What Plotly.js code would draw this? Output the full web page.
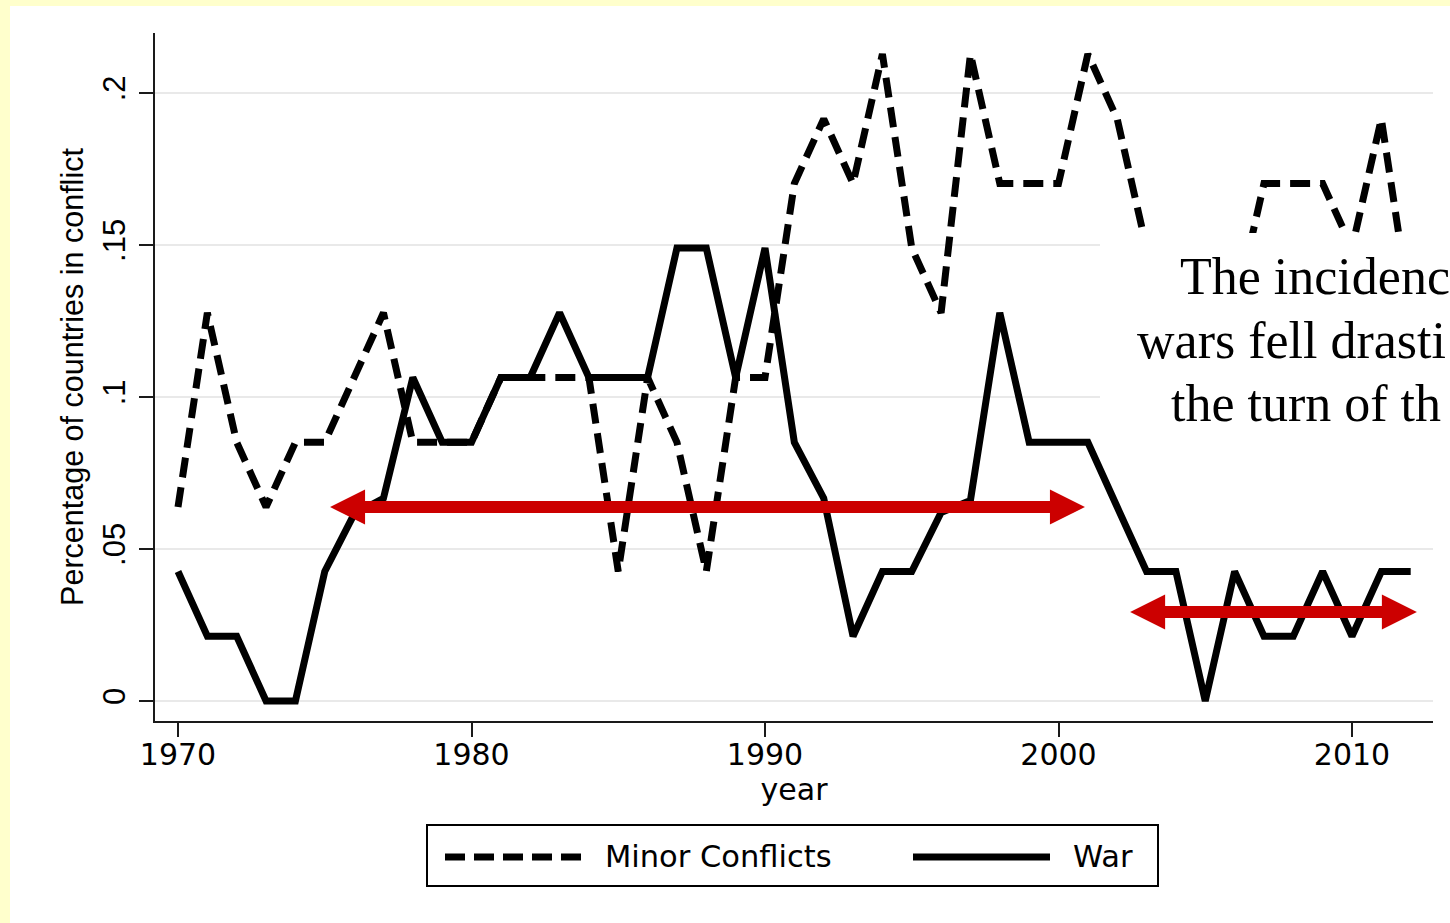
<!DOCTYPE html>
<html>
<head>
<meta charset="utf-8">
<script src="https://cdn.plot.ly/plotly-3.0.1.min.js"></script>
<style>
  html, body { margin: 0; padding: 0; background: #FFFFCC; }
  #chart { width: 1450px; height: 923px; }
</style>
</head>
<body>
<div id="chart"></div>
<script>
// ---- data ----
const years = [1970,1971,1972,1973,1974,1975,1976,1977,1978,1979,
               1980,1981,1982,1983,1984,1985,1986,1987,1988,1989,
               1990,1991,1992,1993,1994,1995,1996,1997,1998,1999,
               2000,2001,2002,2003,2004,2005,2006,2007,2008,2009,
               2010,2011,2012];
const minorConflicts = [0.0638,0.1277,0.0851,0.0638,0.0851,0.0851,0.1064,0.1277,0.0851,0.0851,
                        0.0851,0.1064,0.1064,0.1064,0.1064,0.0426,0.1064,0.0851,0.0426,0.1064,
                        0.1064,0.1702,0.1915,0.1702,0.2128,0.1490,0.1277,0.2128,0.1702,0.1702,
                        0.1702,0.2128,0.1915,0.1490,0.1277,0.1277,0.1277,0.1702,0.1702,0.1702,
                        0.1490,0.1915,0.1277];
const war = [0.0426,0.0213,0.0213,0.0000,0.0000,0.0426,0.0615,0.0667,0.1064,0.0851,
             0.0851,0.1064,0.1064,0.1277,0.1064,0.1064,0.1064,0.1490,0.1490,0.1064,
             0.1490,0.0851,0.0667,0.0213,0.0426,0.0426,0.0620,0.0660,0.1277,0.0851,
             0.0851,0.0851,0.0638,0.0426,0.0426,0.0000,0.0426,0.0213,0.0213,0.0426,
             0.0213,0.0426,0.0426];
const xTickVals = [1970,1980,1990,2000,2010];
const xTickText = ['1970','1980','1990','2000','2010'];
const yTickVals = [0,0.05,0.1,0.15,0.2];
const yTickText = ['0','.05','.1','.15','.2'];
const seriesNames = ['Minor Conflicts','War'];
// double-headed arrows: [start year, end year, level]
const arrowStarts = [1975.18, 2002.44];
const arrowEnds   = [2000.90, 2012.21];
const arrowLevels = [0.0638, 0.0293];
const noteLines = ['The incidenc', 'wars fell drasti', 'the turn of th'];

// ---- layout geometry ----
const W = 1450, H = 923;
const M = {l: 155, r: 17, t: 33, b: 202};
const plotW = W - M.l - M.r, plotH = H - M.t - M.b;
const xRange = [1969.216, 2012.76];
const yRange = [-0.00658, 0.21974];
const pxX = plotW / (xRange[1] - xRange[0]);
const pxY = plotH / (yRange[1] - yRange[0]);
const px = v => (v - M.l) / plotW;          // page px -> paper x
const py = v => (H - M.b - v) / plotH;       // page px -> paper y

const FONT = 'DejaVu Sans, Liberation Sans, Arial, sans-serif';
const FONT_V = 'Liberation Sans, Arial, Helvetica, sans-serif';
const RED = '#CC0000';

const traces = [
  {x: years, y: minorConflicts, name: seriesNames[0], type: 'scatter', mode: 'lines',
   line: {color: '#000', width: 7, dash: '20px,10px'}},
  {x: years, y: war, name: seriesNames[1], type: 'scatter', mode: 'lines',
   line: {color: '#000', width: 7}}
];

const shapes = [];
// white slide panel
shapes.push({type: 'rect', xref: 'paper', yref: 'paper', layer: 'below',
  x0: px(10), x1: px(1460), y0: py(6), y1: py(930),
  fillcolor: '#ffffff', line: {width: 0}});

// arrows
const headLen = 35 / pxX, headHalf = 17.5 / pxY;
for (let i = 0; i < arrowStarts.length; i++) {
  const a = arrowStarts[i], b = arrowEnds[i], lv = arrowLevels[i];
  shapes.push({type: 'line', xref: 'x', yref: 'y', layer: 'above',
    x0: a + headLen * 0.8, x1: b - headLen * 0.8, y0: lv, y1: lv,
    line: {color: RED, width: 12}});
  shapes.push({type: 'path', xref: 'x', yref: 'y', layer: 'above',
    path: `M ${a},${lv} L ${a + headLen},${lv + headHalf} L ${a + headLen},${lv - headHalf} Z`,
    fillcolor: RED, line: {width: 0}});
  shapes.push({type: 'path', xref: 'x', yref: 'y', layer: 'above',
    path: `M ${b},${lv} L ${b - headLen},${lv + headHalf} L ${b - headLen},${lv - headHalf} Z`,
    fillcolor: RED, line: {width: 0}});
}

// white text box overlaying the chart
shapes.push({type: 'rect', xref: 'paper', yref: 'paper', layer: 'above',
  x0: px(1100), x1: px(1460), y0: py(448), y1: py(233),
  fillcolor: '#ffffff', line: {width: 0}});

// custom legend
shapes.push({type: 'rect', xref: 'paper', yref: 'paper', layer: 'above',
  x0: px(427), x1: px(1158), y0: py(886), y1: py(825),
  fillcolor: '#ffffff', line: {color: '#000', width: 2}});
shapes.push({type: 'line', xref: 'paper', yref: 'paper', layer: 'above',
  x0: px(445), x1: px(583), y0: py(857), y1: py(857),
  line: {color: '#000', width: 7, dash: '20px,9px'}});
shapes.push({type: 'line', xref: 'paper', yref: 'paper', layer: 'above',
  x0: px(913), x1: px(1050), y0: py(857), y1: py(857),
  line: {color: '#000', width: 7}});

const annotations = [
  {xref: 'paper', yref: 'paper', x: px(603), y: py(857), xanchor: 'left', yanchor: 'middle',
   text: seriesNames[0], showarrow: false, font: {family: FONT, size: 30.5, color: '#000'}},
  {xref: 'paper', yref: 'paper', x: px(1071), y: py(857), xanchor: 'left', yanchor: 'middle',
   text: seriesNames[1], showarrow: false, font: {family: FONT, size: 30.5, color: '#000'}}
];
const noteX = [1180, 1137, 1171];
const noteBase = [295, 358.5, 422];
for (let i = 0; i < noteLines.length; i++) {
  annotations.push({xref: 'paper', yref: 'paper', x: px(noteX[i] - 2), y: py(noteBase[i] + 12),
    xanchor: 'left', yanchor: 'bottom', text: noteLines[i], showarrow: false,
    font: {family: 'Liberation Serif, Times New Roman, serif', size: 52, color: '#000'}});
}

const layout = {
  width: W, height: H,
  margin: M,
  paper_bgcolor: '#FFFFCC',
  plot_bgcolor: 'rgba(0,0,0,0)',
  showlegend: false,
  xaxis: {
    range: xRange, showgrid: false, zeroline: false,
    showline: true, linecolor: '#1a1a1a', linewidth: 2, mirror: false,
    ticks: 'outside', ticklen: 14, tickwidth: 2, tickcolor: '#1a1a1a',
    tickvals: xTickVals, ticktext: xTickText, ticklabelstandoff: -8,
    tickfont: {family: FONT, size: 30, color: '#000'},
    title: {text: 'year', font: {family: FONT, size: 30, color: '#000'}, standoff: 8}
  },
  yaxis: {
    range: yRange, showgrid: true, gridcolor: '#e9e9e9', gridwidth: 2, zeroline: false,
    showline: true, linecolor: '#1a1a1a', linewidth: 2,
    ticks: 'outside', ticklen: 14, tickwidth: 2, tickcolor: '#1a1a1a',
    tickvals: yTickVals, ticktext: yTickText, tickangle: -90, ticklabelstandoff: 2,
    tickfont: {family: FONT_V, size: 31, color: '#000'},
    title: {text: 'Percentage of countries in conflict', font: {family: FONT_V, size: 30.5, color: '#000'}, standoff: 4}
  },
  shapes: shapes,
  annotations: annotations
};

Plotly.newPlot('chart', traces, layout, {displayModeBar: false, staticPlot: true});
</script>
</body>
</html>
